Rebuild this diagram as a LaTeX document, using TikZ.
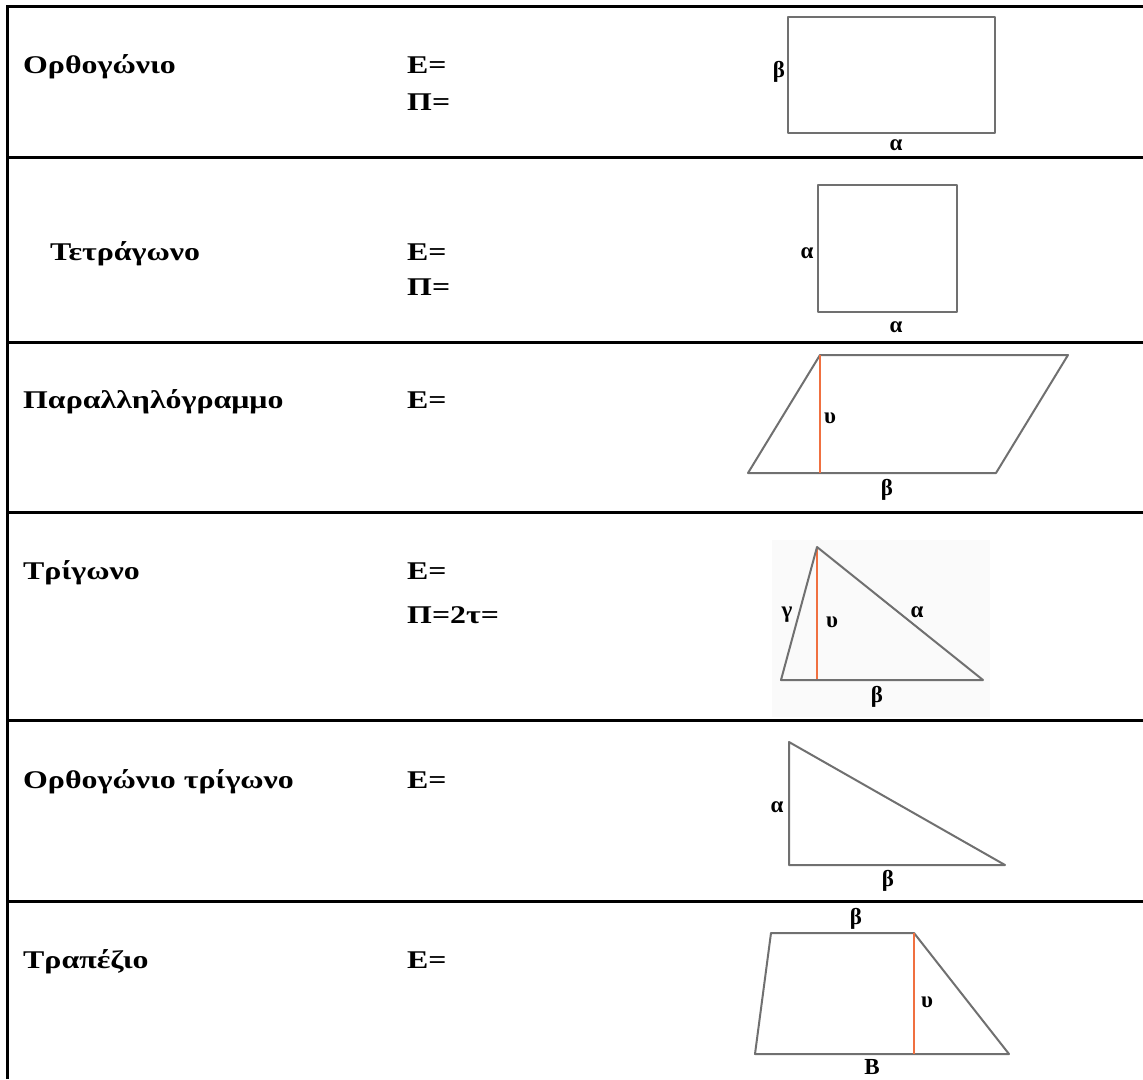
\documentclass[tikz,border=0pt]{standalone}
\usepackage{fontspec}
\setmainfont{Liberation Serif}
\newfontfamily\tabfont{Liberation Serif}[FakeStretch=1.25]
\usepackage{tikz}
\usetikzlibrary{positioning}
\definecolor{figgray}{RGB}{112,112,112}
\definecolor{hgt}{RGB}{240,112,64}
\tikzstyle{rowline} = [line width=3pt]
\tikzstyle{fig} = [draw=figgray, line width=2pt, line join=round]
\tikzstyle{hline} = [draw=hgt, line width=1.6pt]
\tikzstyle{shapename} = [anchor=base west, inner sep=0pt, font=\tabfont\fontsize{25.5}{30}\selectfont\bfseries]
\tikzstyle{formula} = [shapename]
\tikzstyle{lbl} = [inner sep=0pt, font=\fontsize{23}{26}\selectfont\bfseries]

\begin{document}
\begin{tikzpicture}[x=1pt, y=-1pt]
        \useasboundingbox (0,0) rectangle (1143,1079);
        % table
        \draw[rowline] (7.5,1079) -- (7.5,6) -- (1143,6);
        \foreach \y in {157,342,512,720,901}
                \draw[rowline] (7.5,\y) -- (1143,\y);

        % Ορθογώνιο
        \node[shapename] (orth) at (23,73.5) {Ορθογώνιο};
        \node[formula] (orthE) at (407,73.5) {Ε=};
        \node[formula] (orthP) at (407,110.5) {Π=};
        \draw[fig] (788,17) rectangle (995,133);
        \node[lbl] (orthb) at (779,72) {β};
        \node[lbl] (ortha) at (896,145) {α};

        % Τετράγωνο
        \node[shapename] (tetr) at (50,260.5) {Τετράγωνο};
        \node[formula] (tetrE) at (407,260.5) {Ε=};
        \node[formula] (tetrP) at (407,295.5) {Π=};
        \draw[fig] (818,185) rectangle (957,312);
        \node[lbl] (tetral) at (807,253) {α};
        \node[lbl] (tetrab) at (896,327) {α};

        % Παραλληλόγραμμο
        \node[shapename] (para) at (23,408.5) {Παραλληλόγραμμο};
        \node[formula] (paraE) at (407,408.5) {Ε=};
        \coordinate (pA) at (748,473);
        \coordinate (pD) at (820,355);
        \coordinate (pC) at (1068,355);
        \coordinate (pB) at (996,473);
        \coordinate (pH) at (820,473);
        \draw[fig] (pA) -- (pD) -- (pC) -- (pB) -- cycle;
        \draw[hline] (pD) -- (pH);
        \node[lbl] (parau) at (830,418) {υ};
        \node[lbl] (parab) at (887,490) {β};

        % Τρίγωνο
        \node[shapename] (trig) at (23,579.5) {Τρίγωνο};
        \node[formula] (trigE) at (407,579.5) {Ε=};
        \node[formula] (trigP) at (407,623.5) {Π=2τ=};
        \fill[gray!4] (772,540) rectangle (990,717);
        \coordinate (tA) at (781,680);
        \coordinate (tC) at (817,547);
        \coordinate (tB) at (983,680);
        \coordinate (tH) at (817,680);
        \draw[hline] (tC) -- (tH);
        \draw[fig] (tA) -- (tC) -- (tB) -- cycle;
        \node[lbl] (trigg) at (787,615) {γ};
        \node[lbl] (trigu) at (832,622) {υ};
        \node[lbl] (triga) at (917,612) {α};
        \node[lbl] (trigb) at (877,697) {β};

        % Ορθογώνιο τρίγωνο
        \node[shapename] (orthtrig) at (23,788.5) {Ορθογώνιο τρίγωνο};
        \node[formula] (orthtrigE) at (407,788.5) {Ε=};
        \coordinate (rA) at (789,742);
        \coordinate (rB) at (789,865);
        \coordinate (rC) at (1005,865);
        \draw[fig] (rA) -- (rB) -- (rC) -- cycle;
        \node[lbl] (orthtriga) at (777,807) {α};
        \node[lbl] (orthtrigb) at (888,881) {β};

        % Τραπέζιο
        \node[shapename] (trap) at (23,968.5) {Τραπέζιο};
        \node[formula] (trapE) at (407,968.5) {Ε=};
        \coordinate (zA) at (755,1054);
        \coordinate (zD) at (771,933);
        \coordinate (zC) at (914,933);
        \coordinate (zB) at (1009,1054);
        \coordinate (zH) at (914,1054);
        \draw[fig] (zA) -- (zD) -- (zC) -- (zB) -- cycle;
        \draw[hline] (zC) -- (zH);
        \node[lbl] (trapb) at (856,919) {β};
        \node[lbl] (trapu) at (927,1002) {υ};
        \node[lbl] (trapB) at (872,1067) {Β};
\end{tikzpicture}
\end{document}
